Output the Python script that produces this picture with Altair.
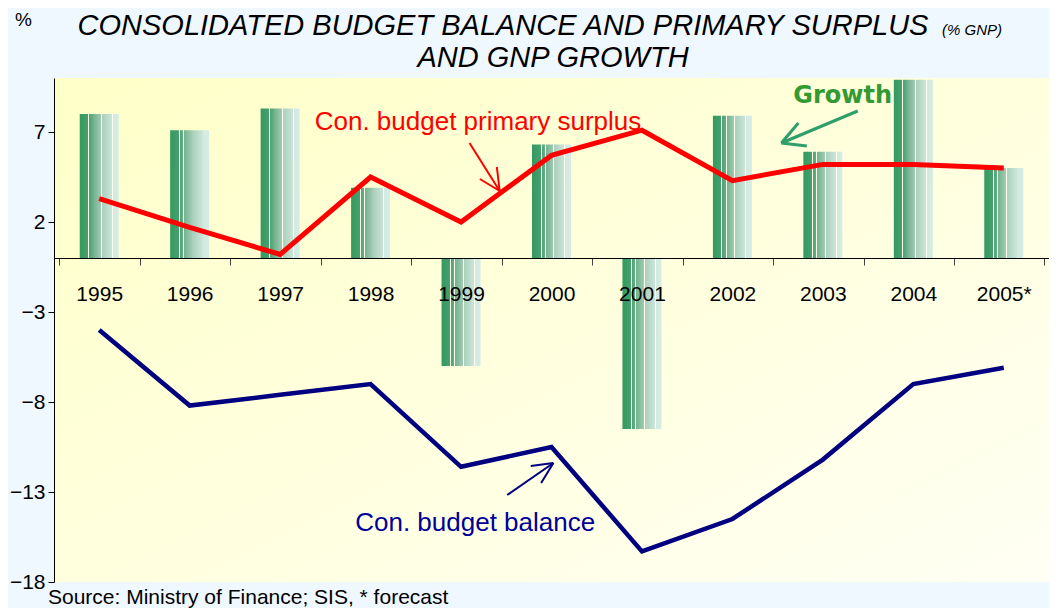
import altair as alt
import pandas as pd

# ---------------- data ----------------
years = ["1995", "1996", "1997", "1998", "1999", "2000", "2001", "2002", "2003", "2004", "2005*"]
growth = [8.0, 7.1, 8.3, 3.9, -6.0, 6.3, -9.5, 7.9, 5.9, 9.9, 5.0]
primary = [3.3, 1.7, 0.2, 4.5, 2.0, 5.7, 7.1, 4.3, 5.2, 5.2, 5.0]
balance = [-4.0, -8.2, -7.6, -7.0, -11.6, -10.5, -16.3, -14.5, -11.2, -7.0, -6.1]
y_ticks = [-18, -13, -8, -3, 2, 7]

df = pd.DataFrame({"year": years, "growth": growth, "primary": primary, "balance": balance})

# ---------------- layout ----------------
PAD_L, PAD_T, PAD_R, PAD_B = 46, 70, 0, 26
W, H = 1041 - PAD_L - PAD_R, 504
YMIN, YMAX = -18, 10
STEP = W / len(years)
OX, OY = 8 + PAD_L, 8 + PAD_T  # page position of plot origin

FONT = "Liberation Sans, Arial, sans-serif"


def px(x_ref):
    # convert a reference-layout x (category centres at 70 + 96*i) to plot x
    return STEP * ((x_ref - 70) / 96 + 0.5)


def py(y_ref):
    return y_ref - 78


one = alt.Data(values=[{"a": 1}])

# background of plot area
bg = alt.Chart(one).mark_rect(
    color=alt.LinearGradient(
        gradient="linear", x1=0, y1=0, x2=1, y2=1,
        stops=[alt.GradientStop(offset=0, color="#FFFFC8"),
               alt.GradientStop(offset=1, color="#FFFFF4")])
).encode(x=alt.value(0), x2=alt.value(W), y=alt.value(0), y2=alt.value(H))

stripe = "#FFFFF0"
bar_grad = alt.LinearGradient(
    gradient="linear", x1=0, y1=0, x2=1, y2=0,
    stops=[
        alt.GradientStop(offset=0.0, color="#349961"),
        alt.GradientStop(offset=0.22, color="#46A06D"),
        alt.GradientStop(offset=0.22, color=stripe),
        alt.GradientStop(offset=0.245, color=stripe),
        alt.GradientStop(offset=0.245, color="#50A475"),
        alt.GradientStop(offset=0.33, color="#66AD85"),
        alt.GradientStop(offset=0.33, color=stripe),
        alt.GradientStop(offset=0.35, color=stripe),
        alt.GradientStop(offset=0.35, color="#72B28D"),
        alt.GradientStop(offset=0.55, color="#A2CAB4"),
        alt.GradientStop(offset=0.55, color=stripe),
        alt.GradientStop(offset=0.57, color=stripe),
        alt.GradientStop(offset=0.57, color="#AACFBB"),
        alt.GradientStop(offset=0.83, color="#CBE5D9"),
        alt.GradientStop(offset=0.83, color=stripe),
        alt.GradientStop(offset=0.85, color=stripe),
        alt.GradientStop(offset=0.85, color="#D2EAE1"),
        alt.GradientStop(offset=1.0, color="#D6ECE4"),
    ])

x_enc = alt.X(
    "year:N", sort=years, title=None,
    axis=alt.Axis(orient="bottom", offset=-(0 - YMIN) * H / (YMAX - YMIN),
                  labelAngle=0, tickBand="extent", tickSize=7, labelPadding=18,
                  labelFontSize=21, labelFont=FONT, labelColor="black",
                  domainColor="black", tickColor="#444444", grid=False, zindex=1),
)
y_scale = alt.Scale(domain=[YMIN, YMAX], nice=False, zero=False)
y_axis = alt.Axis(values=y_ticks, tickSize=6, labelPadding=3, labelFontSize=21,
                  labelFont=FONT, labelColor="black", domainColor="black",
                  tickColor="black", grid=False, zindex=1)

bars = alt.Chart(df).mark_bar(size=39, color=bar_grad).encode(
    x=x_enc,
    y=alt.Y("growth:Q", scale=y_scale, axis=y_axis, title=None),
)

red_line = alt.Chart(df).mark_line(color="#FF0000", strokeWidth=5, strokeJoin="miter").encode(
    x=alt.X("year:N", sort=years),
    y=alt.Y("primary:Q", scale=y_scale),
)
navy_line = alt.Chart(df).mark_line(color="#000080", strokeWidth=4.5, strokeJoin="miter").encode(
    x=alt.X("year:N", sort=years),
    y=alt.Y("balance:Q", scale=y_scale),
)


def seg(p0, p1, color, width):
    return alt.Chart(one).mark_rule(color=color, strokeWidth=width).encode(
        x=alt.value(px(p0[0])), y=alt.value(py(p0[1])),
        x2=alt.value(px(p1[0])), y2=alt.value(py(p1[1])))


def arrow(start, tip, h1, h2, color, width):
    return [seg(start, tip, color, width), seg(tip, h1, color, width), seg(tip, h2, color, width)]


arrows = []
arrows += arrow((463, 143), (495, 191), (474, 179), (492, 167), "#FF0000", 2)
arrows += arrow((875, 111), (794, 143), (812, 123), (821, 146), "#2E9E6A", 3)
arrows += arrow((503, 495), (552, 463), (528, 466), (539, 483), "#000080", 2)


def label(text, x, y, size, color, align="center", font=FONT, style="normal", weight="normal"):
    return alt.Chart(one).mark_text(
        text=text, fontSize=size, color=color, align=align, baseline="alphabetic",
        font=font, fontStyle=style, fontWeight=weight,
    ).encode(x=alt.value(x), y=alt.value(y))


texts = [
    label("Con. budget primary surplus", px(472), py(130), 26, "#FF0000"),
    label("Growth", px(859), py(103), 24, "#339933", font="DejaVu Sans, Verdana, sans-serif", weight="bold"),
    label("Con. budget balance", px(469), py(531), 26, "#000099"),
    label("%", 15 - OX, 26 - OY, 19, "black", align="left"),
    label("CONSOLIDATED BUDGET BALANCE AND PRIMARY SURPLUS", 503 - OX, 35 - OY, 29, "black",
          style="italic"),
    label("(% GNP)", 942 - OX, 35 - OY, 15, "black", align="left", style="italic"),
    label("AND GNP GROWTH", 553 - OX, 67 - OY, 29, "black", style="italic"),
    label("Source: Ministry of Finance; SIS, * forecast", 48 - OX, 604 - OY, 21, "black", align="left"),
]

chart = alt.layer(bg, bars, red_line, navy_line, *arrows, *texts).properties(
    width=W, height=H,
    autosize=alt.AutoSizeParams(type="none"),
    padding={"left": PAD_L, "top": PAD_T, "right": PAD_R, "bottom": PAD_B},
    background="#F0F8FF",
).configure_view(strokeWidth=0)

chart.save("out.html", embed_options={"renderer": "svg", "actions": False})
